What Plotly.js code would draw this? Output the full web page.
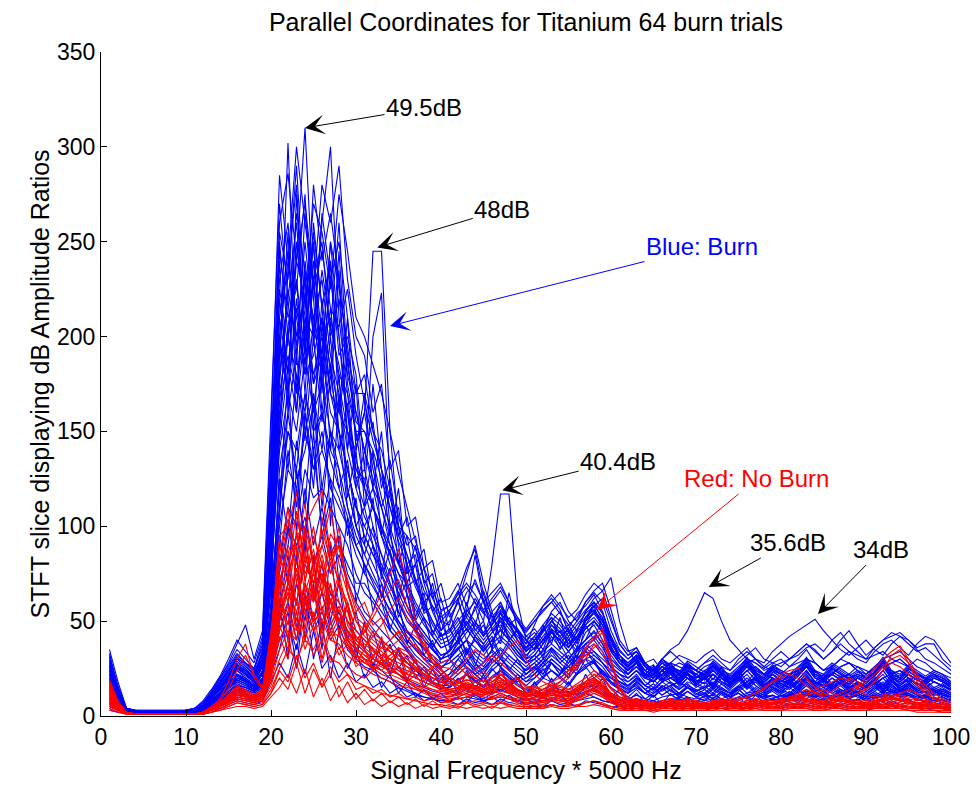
<!DOCTYPE html>
<html>
<head>
<meta charset="utf-8">
<script src="https://cdn.plot.ly/plotly-3.0.1.min.js"></script>
<style>html,body{margin:0;padding:0;background:#fff;}#chart{width:976px;height:790px;}</style>
</head>
<body>
<div id="chart"></div>
<script>
// Frequency bins (x axis)
const freq = [1,2,3,4,5,6,7,8,9,10,11,12,13,14,15,16,17,18,19,20,21,22,23,24,25,26,27,28,29,30,31,32,33,34,35,36,37,38,39,40,41,42,43,44,45,46,47,48,49,50,51,52,53,54,55,56,57,58,59,60,61,62,63,64,65,66,67,68,69,70,71,72,73,74,75,76,77,78,79,80,81,82,83,84,85,86,87,88,89,90,91,92,93,94,95,96,97,98,99,100];

// Burn trials (blue)
const burn01 = [28,10,3,2,2,2,2,2,2,2, 3,5,9,14,20,26,22,18,35,120, 210,180,240,310,220,160,200,150,110,90, 80,70,60,45,40,35,28,22,20,18, 22,30,25,18,20,15,22,18,14,12, 15,20,18,12,16,22,25,30,20,15, 12,10,14,9,12,15,11,9,13,10, 8,12,9,11,14,10,8,7,9,11, 10,8,12,9,7,10,13,9,8,11, 9,12,10,8,11,9,7,10,8,9];
const burn02 = [33,14,4,2,2,2,2,2,2,3, 3,6,12,18,24,30,28,25,40,120, 180,302,190,230,175,210,140,180,120,100, 110,90,75,60,48,40,35,30,28,25, 30,35,40,28,22,30,26,20,18,25, 28,22,30,26,20,35,40,45,38,25, 20,18,22,16,20,24,18,15,20,17, 15,20,17,14,18,22,16,13,17,15, 14,18,22,16,13,17,20,15,12,16, 18,22,16,13,17,20,15,14,12,10];
const burn03 = [20,9,3,2,2,2,2,2,2,2, 2,4,8,12,18,24,20,16,28,90, 180,220,160,240,200,260,300,210,170,130, 120,100,85,70,55,45,38,32,28,24, 20,26,30,22,18,25,20,16,22,18, 20,25,18,22,28,32,26,20,24,18, 15,12,18,14,10,16,13,11,15,12, 10,14,11,9,13,16,12,10,14,11, 9,13,16,12,10,14,11,9,12,10, 13,16,12,10,14,11,9,12,10,8];
const burn04 = [25,11,3,2,2,2,2,2,2,2, 3,5,10,16,22,28,25,20,30,100, 200,240,210,180,230,190,250,200,150,140, 160,245,245,150,100,70,50,40,35,30, 35,40,30,25,28,35,30,25,20,22, 25,30,28,22,26,30,35,28,22,20, 18,15,20,16,13,18,15,12,16,14, 12,16,13,11,15,18,14,12,16,13, 11,15,18,14,12,16,13,11,14,12, 15,18,14,12,16,13,11,14,12,10];
const burn05 = [18,8,3,2,2,2,2,2,2,2, 2,4,7,11,16,20,18,15,22,70, 150,200,230,190,260,215,240,190,200,180, 130,200,223,120,90,65,45,38,30,26, 28,32,26,22,25,30,26,22,18,20, 22,28,24,20,24,28,30,24,20,18, 16,14,18,14,12,16,14,11,15,13, 11,15,12,10,14,17,13,11,15,12, 10,14,17,13,11,15,12,10,13,11, 14,17,13,11,15,12,10,13,11,9];
const burn06 = [22,9,3,2,2,2,2,2,2,2, 3,5,9,14,20,25,22,18,26,80, 160,190,170,210,180,200,170,150,130,110, 100,90,80,70,60,50,45,40,35,30, 35,45,55,60,50,80,117,117,60,40, 35,40,45,38,30,35,40,50,45,30, 25,20,24,18,15,20,17,14,18,16, 14,18,15,12,16,20,16,13,17,14, 12,16,20,15,13,17,14,12,15,13, 16,20,15,13,17,14,12,15,13,11];
const burn07 = [15,7,3,2,2,2,2,2,2,2, 2,4,8,13,18,22,20,17,24,75, 140,170,150,190,160,175,150,140,120,100, 90,80,70,60,50,42,36,32,28,25, 30,35,40,32,28,35,40,36,30,26, 30,35,40,45,38,42,50,55,48,35, 30,28,32,26,24,30,35,38,45,55, 65,62,50,40,35,30,28,25,28,30, 26,30,35,28,24,28,25,22,26,24, 22,26,24,20,18,22,20,18,16,14];
const burn08 = [12,6,3,2,2,2,2,2,2,2, 2,3,7,11,16,20,18,15,20,60, 120,150,140,170,150,160,140,130,110,95, 85,75,65,55,48,40,35,30,26,22, 25,30,35,28,24,30,35,30,26,22, 26,30,35,30,26,32,38,42,36,28, 24,22,26,22,20,24,28,32,30,28, 32,35,30,28,32,36,30,28,34,38, 42,45,48,51,45,40,35,32,36,40, 35,32,38,42,40,35,30,28,25,22];
const burn09 = [10,5,3,2,2,2,2,2,2,2, 2,3,6,10,15,18,16,14,18,50, 100,130,120,150,130,140,125,115,100,85, 75,68,60,52,45,38,32,28,24,20, 22,26,30,25,22,28,32,28,24,20, 24,28,32,28,24,30,35,38,32,26, 22,20,24,20,18,22,25,28,26,24, 28,30,26,24,28,32,36,30,28,26, 30,34,38,35,30,34,40,45,38,32, 36,40,42,44,40,36,38,38,30,26];
const burn10 = [8,4,2,2,2,2,2,2,2,2, 2,3,5,8,12,15,14,12,15,40, 80,110,100,130,115,120,110,100,90,75, 65,60,52,45,40,34,28,24,20,18, 18,22,26,22,18,24,28,24,20,16, 20,24,28,24,20,26,30,32,28,22, 18,16,20,16,14,18,20,22,20,18, 20,22,18,16,20,24,26,22,20,18, 22,24,26,24,20,22,26,28,24,20, 22,26,28,30,26,22,20,18,16,14];
const burn11 = [26,10,3,2,2,2,2,2,2,2, 3,6,11,17,23,30,26,22,32,110, 230,260,200,220,250,180,230,200,160,120, 140,120,110,90,80,75,90,70,55,45, 50,60,75,90,70,55,60,50,40,35, 40,45,50,55,45,40,50,60,55,40, 30,25,28,22,18,24,20,17,22,19, 17,22,18,15,19,24,19,16,20,17, 15,19,24,18,16,20,17,15,18,16, 19,24,18,16,20,17,15,18,16,14];
const burn12 = [16,7,3,2,2,2,2,2,2,2, 2,4,8,12,17,22,19,16,24,85, 170,200,180,160,210,230,190,170,140,120, 105,95,85,75,65,55,48,42,36,30, 32,38,44,50,42,48,55,48,40,34, 38,45,55,60,50,45,55,62,66,73, 50,35,28,22,18,24,20,17,22,19, 17,22,18,15,19,24,19,16,20,17, 15,19,24,18,16,20,17,15,18,16, 19,24,18,16,20,17,15,18,16,14];
const burn13 = [5,3,2,2,2,2,2,2,2,2, 2,2,4,6,9,12,10,9,12,30, 50,70,60,80,70,75,65,60,50,45, 40,35,30,26,22,18,15,13,11,10, 10,12,14,11,9,12,14,12,10,8, 10,12,14,12,10,13,15,16,13,10, 8,7,9,7,6,8,9,10,9,8, 9,10,8,7,9,11,12,10,9,8, 10,11,12,11,9,10,12,13,11,9, 10,12,13,14,12,10,9,8,7,6];
const burn14 = [30,13,4,2,2,2,2,2,2,3, 3,6,13,20,28,38,48,30,45,160, 270,220,260,200,280,240,265,230,190,170, 180,150,130,110,95,85,70,60,50,42, 45,55,65,70,60,65,70,60,50,45, 50,55,60,65,55,50,60,65,60,45, 35,30,34,26,22,28,24,20,26,22, 20,26,22,18,22,28,22,19,24,20, 18,22,28,21,19,24,20,18,21,19, 22,28,21,19,24,20,18,21,19,16];
const burn15 = [14,6,3,2,2,2,2,2,2,2, 2,4,7,12,16,20,18,15,20,55, 200,170,220,180,190,210,170,160,150,130, 125,110,95,80,68,58,50,44,38,32, 34,40,46,40,34,40,45,40,34,28, 32,38,44,40,34,40,46,50,44,34, 28,24,28,22,20,24,22,19,24,21, 19,24,20,17,21,26,21,18,22,19, 17,21,26,20,18,22,19,17,20,18, 21,26,20,18,22,19,17,20,18,15];
const burn16 = [7,4,2,2,2,2,2,2,2,2, 2,3,5,9,13,16,15,13,16,45, 90,140,110,160,130,150,120,110,100,90, 95,85,75,65,55,45,40,35,30,26, 28,32,36,30,26,32,36,32,28,24, 28,32,36,32,28,34,38,40,34,26, 22,20,24,20,18,22,26,24,22,20, 22,26,22,20,24,28,24,22,26,24, 22,26,30,28,24,26,30,28,26,22, 26,30,32,34,30,26,24,22,18,16];
const burn17 = [19,8,3,2,2,2,2,2,2,2, 3,5,9,14,19,24,21,18,27,95, 250,200,230,170,240,200,210,180,170,150, 150,135,115,100,85,70,60,52,45,38, 40,46,52,46,40,46,52,46,40,34, 38,44,50,46,40,46,52,56,50,38, 32,28,32,26,22,28,25,21,27,24, 21,27,23,19,23,29,23,20,25,22, 19,23,29,22,20,25,22,19,22,20, 23,29,22,20,25,22,19,22,20,17];
const burn18 = [9,5,2,2,2,2,2,2,2,2, 2,3,5,8,11,14,13,11,14,35, 60,100,80,120,90,110,85,95,75,65, 55,50,45,40,34,28,24,20,17,15, 15,18,22,18,15,20,24,20,16,13, 16,20,24,20,16,22,26,28,22,17, 14,12,15,12,10,14,16,18,15,13, 15,17,14,12,15,18,20,17,15,13, 16,18,20,18,15,17,20,22,18,15, 17,20,22,24,20,17,15,13,11,10];
const burn19 = [24,10,3,2,2,2,2,2,2,2, 3,5,10,15,21,27,24,20,30,130, 260,286,240,270,230,250,200,220,180,160, 140,125,110,95,80,68,58,50,42,36, 38,44,50,44,38,44,50,44,38,32, 36,42,48,44,38,44,50,54,48,36, 30,26,30,24,21,26,23,20,25,22, 20,25,21,18,22,27,22,19,23,21, 18,22,27,21,19,23,21,18,21,19, 22,27,21,19,23,21,18,21,19,16];
const burn20 = [11,5,3,2,2,2,2,2,2,2, 2,4,7,11,15,19,17,14,19,55, 110,150,130,170,140,160,135,120,105,90, 80,72,64,56,50,44,40,36,32,28, 30,40,55,85,60,45,50,42,36,30, 34,40,46,42,36,42,48,52,46,36, 30,26,32,28,24,30,34,30,26,24, 28,32,28,24,30,34,30,26,30,34, 30,34,38,34,30,34,38,34,30,28, 34,38,40,36,32,38,42,40,34,28];
const burn21 = [6,3,2,2,2,2,2,2,2,2, 2,2,4,7,10,13,12,10,13,28, 45,60,40,70,50,65,45,55,40,35, 30,28,24,20,17,14,12,10,9,8, 8,10,12,10,8,10,12,10,8,7, 8,10,12,10,8,11,13,14,11,8, 7,6,8,6,5,7,8,9,8,7, 8,9,7,6,8,10,11,9,8,7, 9,10,11,10,8,9,11,12,10,8, 9,11,12,13,11,9,8,7,6,5];
const burn22 = [21,9,3,2,2,2,2,2,2,2, 3,5,10,15,20,26,23,19,28,100, 220,180,250,210,200,265,230,250,210,170, 170,150,140,120,100,85,72,60,50,42, 44,50,56,50,44,50,56,50,44,38, 42,48,54,50,44,50,56,60,54,42, 34,30,34,28,24,30,27,23,29,26, 23,29,25,21,25,31,25,22,27,24, 21,25,31,24,22,27,24,21,24,22, 25,31,24,22,27,24,21,24,22,18];
const burn23 = [13,6,3,2,2,2,2,2,2,2, 2,4,7,11,15,19,17,14,19,50, 130,160,190,150,170,140,180,150,130,110, 100,110,100,85,70,58,50,44,38,32, 34,40,46,40,34,40,46,40,34,28, 32,38,44,40,34,40,46,50,44,34, 28,24,28,22,20,24,22,19,24,21, 19,24,20,17,21,26,21,18,22,19, 17,21,26,20,18,22,19,17,20,18, 21,26,20,18,22,19,17,20,18,15];
const burn24 = [10,5,3,2,2,2,2,2,2,2, 2,3,6,9,13,16,15,13,16,38, 70,90,120,95,140,100,125,90,80,70, 70,62,55,48,42,36,30,26,22,19, 20,24,28,24,20,26,30,26,22,18, 22,26,30,26,22,28,32,34,28,22, 18,16,20,16,14,18,20,22,20,18, 20,22,18,16,20,24,26,22,20,18, 22,24,26,24,20,22,26,28,24,20, 22,26,28,30,26,22,20,18,16,14];
const burn25 = [31,16,4,3,3,3,3,3,3,3, 4,7,12,19,26,33,28,24,38,140, 240,160,275,190,250,170,240,160,210,140, 170,120,150,100,110,80,85,60,65,45, 55,40,60,45,50,35,55,40,45,30, 40,30,45,35,42,30,48,40,52,35, 30,22,28,20,25,18,24,17,22,16, 20,15,22,16,21,15,20,14,19,15, 18,14,20,15,19,14,18,13,17,14, 18,13,19,14,17,13,16,12,14,11];
const burn26 = [17,8,3,2,2,2,2,2,2,2, 2,4,8,12,16,21,18,15,20,45, 60,30,85,40,70,35,90,45,60,30, 50,25,40,22,35,18,30,15,25,14, 20,12,24,14,22,12,26,15,20,11, 18,10,20,12,18,11,22,14,20,10, 14,8,12,7,11,6,12,8,10,7, 11,7,12,8,10,6,11,7,9,6, 10,7,11,8,9,6,10,7,9,6, 10,7,11,8,9,6,8,6,7,5];
const burn27 = [27,12,4,3,2,2,2,2,2,3, 3,6,11,17,24,31,27,22,33,105, 190,255,170,235,150,220,180,245,175,150, 120,175,130,95,120,75,80,55,70,50, 48,62,45,58,42,55,40,65,45,40, 35,48,38,52,36,45,55,60,50,42, 32,26,30,22,26,20,25,18,23,17, 21,16,23,17,22,16,21,15,20,16, 19,15,21,16,20,15,19,14,18,15, 19,14,20,15,18,14,17,13,15,12];
const burn28 = [4,2,2,2,2,2,2,2,2,2, 2,2,3,5,8,10,9,8,10,22, 35,55,25,65,30,50,20,45,25,35, 20,28,15,22,12,18,10,14,9,12, 8,10,7,12,8,10,7,11,8,9, 7,10,8,11,7,9,12,10,8,7, 6,5,7,5,6,4,6,5,6,4, 5,4,6,5,5,4,6,5,5,4, 5,4,6,5,5,4,6,5,5,4, 5,4,6,5,5,4,5,4,4,3];
const burn29 = [22,10,3,2,2,2,2,2,2,2, 3,5,10,15,21,27,24,20,29,90, 150,235,280,195,255,215,170,235,140,175, 110,140,95,120,80,95,70,78,55,62, 45,52,40,48,62,45,38,52,44,36, 42,35,46,38,44,36,50,58,45,37, 28,24,29,21,24,19,23,17,22,16, 20,15,22,16,20,15,19,14,18,15, 17,14,19,15,18,14,17,13,16,14, 17,13,18,14,16,13,15,12,13,11];
const burn30 = [9,5,3,2,2,2,2,2,2,2, 2,3,6,9,13,17,15,13,17,42, 95,70,130,85,150,95,115,70,105,60, 80,55,70,45,60,38,48,32,40,28, 30,24,34,26,38,28,32,24,30,22, 26,20,28,22,30,24,34,30,26,20, 16,13,17,12,15,11,14,10,13,10, 12,9,13,10,12,9,12,9,11,9, 11,9,12,10,11,9,12,9,11,8, 11,9,12,10,11,8,10,8,9,7];
const burn31 = [35,18,4,3,3,3,3,3,3,3, 4,8,14,21,30,40,34,28,42,150, 285,240,300,260,225,280,260,290,230,200, 190,160,175,130,140,100,105,78,82,60, 62,70,58,72,60,50,58,48,52,42, 46,40,50,44,48,40,52,58,62,50, 38,32,36,28,30,24,28,22,26,20, 24,19,26,20,24,18,23,17,22,18, 21,17,23,18,22,17,21,16,20,17, 21,16,22,17,20,16,19,15,17,14];
const burn32 = [14,7,3,2,2,2,2,2,2,2, 2,4,8,12,17,21,19,16,22,65, 110,180,95,160,120,190,100,170,115,140, 90,115,75,100,62,80,52,65,42,55, 36,45,32,42,35,40,30,38,32,28, 30,26,34,28,32,26,36,32,28,24, 20,16,19,14,17,13,16,12,15,11, 14,11,15,12,14,10,13,11,13,10, 13,10,14,11,13,10,13,10,12,10, 13,10,14,11,12,10,11,9,10,8];
const burn33 = [20,8,3,2,2,2,2,2,2,2, 3,4,9,14,19,25,22,18,26,85, 165,205,240,220,160,205,185,160,190,145, 160,130,110,125,95,105,80,88,62,70, 52,60,48,56,66,52,46,58,50,42, 40,46,52,40,46,54,58,64,55,42, 30,26,30,22,26,20,24,18,22,17, 20,16,22,17,21,15,20,15,19,16, 18,15,20,16,19,15,18,14,17,15, 18,14,19,15,17,14,16,13,14,12];
const burn34 = [7,4,2,2,2,2,2,2,2,2, 2,3,5,8,11,14,13,11,14,30, 55,85,45,95,60,80,50,70,40,55, 35,45,30,38,25,32,20,26,18,22, 15,20,14,18,15,17,13,16,14,12, 13,11,14,12,13,11,15,13,12,10, 9,8,9,7,8,6,8,6,7,6, 7,6,8,6,7,5,7,6,7,5, 7,6,8,6,7,5,7,6,7,5, 7,6,8,6,7,5,6,5,5,4];
const burn35 = [29,12,4,2,2,2,2,2,2,3, 3,6,12,18,25,32,28,23,34,115, 225,195,265,235,210,190,250,225,195,160, 140,155,120,135,105,90,95,70,75,55, 58,66,52,62,55,48,60,50,46,40, 44,38,48,42,46,38,52,56,48,40, 32,27,31,24,27,21,25,19,23,18, 22,17,23,18,22,16,21,16,20,17, 19,16,21,17,20,16,19,15,18,16, 20,15,21,16,19,15,18,14,16,13];
const burn36 = [12,6,3,2,2,2,2,2,2,2, 2,4,7,11,15,19,17,14,19,52, 125,95,145,110,170,120,150,130,95,115, 75,90,62,78,52,64,44,52,36,44, 30,36,28,34,30,34,26,32,28,24, 26,22,28,24,26,22,30,28,24,20, 17,14,16,12,15,11,14,10,13,10, 12,9,13,10,12,9,12,10,11,9, 12,9,13,10,12,9,12,10,11,9, 12,9,13,10,12,9,11,9,10,8];
const burn37 = [23,9,3,2,2,2,2,2,2,2, 3,5,10,15,21,27,23,19,28,95, 175,225,195,250,205,185,215,175,150,125, 130,110,95,85,75,70,80,66,58,50, 55,65,78,88,64,52,58,50,45,38, 48,58,62,56,44,40,48,55,50,40, 30,26,30,24,20,26,22,19,24,21, 19,24,20,17,21,26,21,18,22,19, 17,21,26,20,18,22,19,17,20,18, 21,26,20,18,22,19,17,20,18,15];
const burn38 = [5,3,2,2,2,2,2,2,2,2, 2,2,4,6,9,11,10,9,11,25, 40,50,35,60,45,55,40,48,35,30, 26,24,20,18,15,13,11,10,9,8, 8,9,10,9,8,9,10,9,8,7, 7,8,9,8,7,8,9,10,8,7, 6,5,6,5,5,6,6,5,6,5, 5,6,6,5,5,6,6,5,5,5, 6,6,6,5,5,6,6,5,5,5, 6,6,6,5,5,5,5,4,4,4];
const burn39 = [16,7,3,2,2,2,2,2,2,2, 2,4,8,12,17,22,19,16,23,75, 145,185,160,205,175,190,160,150,130,110, 95,85,78,68,60,52,46,40,35,30, 32,36,40,36,32,38,42,38,32,28, 30,34,38,34,30,36,40,44,38,30, 26,22,26,22,20,24,26,24,22,20, 24,26,22,20,24,28,30,26,24,22, 26,28,30,28,24,26,30,34,32,30, 36,40,44,42,38,34,36,32,28,24];
const burn40 = [19,8,3,2,2,2,2,2,2,2, 3,5,9,14,19,25,22,18,26,88, 195,170,215,185,230,175,205,185,160,135, 120,110,98,86,75,64,56,48,42,36, 38,44,48,42,38,44,48,42,36,32, 36,40,44,40,36,42,46,50,44,34, 28,24,28,24,22,26,28,26,24,22, 26,28,24,22,26,30,28,24,26,28, 30,32,36,38,34,40,44,38,34,30, 32,34,30,28,26,30,28,24,22,20];
const burn41 = [26,11,3,2,2,2,2,2,2,2, 3,5,11,16,22,29,25,21,31,125, 245,210,225,275,195,235,205,260,185,155, 150,140,125,110,92,80,68,58,48,40, 42,48,54,48,42,48,54,48,42,36, 40,46,52,48,42,48,54,58,52,40, 32,28,32,26,23,28,25,22,27,24, 21,27,23,19,23,29,23,20,25,22, 19,23,29,22,20,25,22,19,22,20, 23,29,22,20,25,22,19,22,20,17];
const burn42 = [8,4,2,2,2,2,2,2,2,2, 2,3,5,8,12,15,14,12,15,36, 75,100,90,105,80,95,75,85,70,60, 52,46,40,36,32,28,24,21,18,16, 16,19,22,19,16,21,24,21,17,14, 17,21,24,21,17,23,27,29,23,18, 14,12,15,12,10,14,16,18,15,13, 15,17,14,12,15,18,20,17,15,13, 16,18,20,18,15,17,20,22,18,15, 17,20,22,24,20,17,15,13,11,10];
const burn43 = [18,8,3,2,2,2,2,2,2,2, 2,4,8,12,17,22,19,16,23,70, 160,130,180,145,200,155,185,140,165,125, 110,120,100,90,82,68,72,54,58,42, 46,38,50,42,48,36,52,40,46,34, 38,32,42,36,40,34,44,48,40,32, 26,22,26,20,22,18,22,16,20,15, 18,14,20,15,19,14,18,13,17,14, 17,13,18,14,17,13,16,12,15,13, 16,12,17,13,15,12,14,11,12,10];
const burn44 = [3,2,2,2,2,2,2,2,2,2, 2,2,3,4,6,8,7,6,8,18, 28,20,38,22,45,25,32,20,28,18, 22,15,18,12,15,10,12,8,10,7, 8,6,9,7,8,6,9,7,8,6, 7,5,8,6,7,5,8,7,6,5, 5,4,5,4,5,4,5,4,5,4, 5,4,5,4,5,4,5,4,5,4, 5,4,5,4,5,4,5,4,5,4, 5,4,5,4,5,4,4,4,4,3];
const burn45 = [24,10,3,2,2,2,2,2,2,2, 3,5,10,15,21,27,24,20,30,110, 210,245,185,265,225,245,215,205,225,190, 165,145,130,115,100,95,88,72,62,52, 56,62,68,60,54,60,66,58,50,44, 50,56,60,54,48,52,60,66,70,56, 40,34,36,28,24,30,26,22,28,24, 22,28,24,20,24,30,24,21,26,23, 20,24,30,23,21,26,23,20,23,21, 24,30,23,21,26,23,20,23,21,18];
const burn46 = [11,5,3,2,2,2,2,2,2,2, 2,3,6,10,14,18,16,13,18,48, 105,160,125,140,165,110,150,120,135,100, 85,100,72,88,60,72,50,60,44,50, 38,44,34,40,36,42,32,40,34,30, 32,28,36,30,34,28,38,34,30,26, 22,18,21,16,19,15,18,14,17,13, 16,12,17,13,16,12,15,12,14,12, 15,12,16,13,15,12,14,12,13,11, 15,12,16,13,14,12,13,11,12,10];
const burn47 = [32,15,4,3,2,2,2,2,2,3, 4,7,13,20,27,35,30,25,36,135, 255,230,290,215,270,255,225,275,245,210, 200,185,170,150,128,110,92,78,66,56, 58,64,70,64,56,62,68,60,52,46, 52,58,64,58,52,56,64,70,66,52, 38,32,34,27,24,29,26,22,27,24, 22,27,23,20,23,28,23,20,25,22, 20,23,28,22,20,25,22,20,22,20, 23,28,22,20,25,22,20,22,20,17];
const burn48 = [6,3,2,2,2,2,2,2,2,2, 2,3,4,7,10,13,12,10,13,28, 55,40,70,50,85,45,65,55,45,38, 34,30,27,24,22,19,17,15,13,12, 12,14,16,14,12,14,16,14,12,10, 12,14,16,14,12,15,18,20,16,12, 10,9,11,9,8,10,11,12,10,9, 10,11,9,8,10,12,13,11,10,9, 11,12,13,12,10,11,13,14,12,10, 11,13,14,15,13,11,10,9,8,7];

// No-burn trials (red)
const noburn01 = [18,7,2,1,1,1,1,1,1,1, 1,2,4,7,10,14,12,10,12,30, 70,90,80,100,110,119,85,70,60,45, 40,35,30,28,24,20,16,14,12,10, 9,10,12,14,12,10,12,10,8,7, 8,7,9,8,7,9,12,15,12,8, 6,5,6,5,4,5,6,5,6,5, 4,5,6,5,4,5,6,5,4,5, 6,7,6,5,4,5,6,5,4,5, 5,6,7,6,5,4,5,4,4,3];
const noburn02 = [12,5,2,1,1,1,1,1,1,1, 1,2,4,6,9,12,11,9,11,40, 95,100,118,70,95,80,60,75,55,40, 35,30,28,25,22,18,15,13,11,9, 8,9,10,12,10,9,11,9,7,6, 7,6,8,7,6,8,10,12,10,7, 5,4,5,4,4,5,5,4,5,4, 4,5,5,4,4,5,5,4,4,4, 5,6,5,4,4,5,5,4,4,4, 5,5,6,5,4,4,4,3,3,3];
const noburn03 = [9,4,2,1,1,1,1,1,1,1, 1,2,3,5,8,11,10,8,10,25, 50,65,55,70,60,75,55,50,45,40, 45,55,65,75,88,70,50,40,30,25, 20,18,16,14,12,13,12,10,9,8, 9,8,10,9,8,10,12,14,11,8, 6,5,6,5,5,6,6,5,6,5, 5,6,6,5,5,6,6,5,5,5, 6,7,6,5,5,6,6,5,5,5, 6,6,7,6,5,5,5,4,4,3];
const noburn04 = [14,6,2,1,1,1,1,1,1,1, 1,2,5,9,18,30,38,20,14,35, 60,75,90,65,80,55,70,50,40,35, 30,26,24,28,32,30,26,22,18,15, 14,15,18,16,14,16,18,15,12,10, 12,10,14,16,20,25,35,42,46,30, 15,10,8,6,5,6,7,6,7,6, 5,6,7,6,5,6,7,6,5,6, 7,8,7,6,5,6,7,6,5,6, 6,7,8,7,6,5,5,4,4,4];
const noburn05 = [7,3,2,1,1,1,1,1,1,1, 1,2,3,5,7,9,8,7,9,20, 45,55,70,60,75,65,60,50,40,32, 28,25,22,20,18,16,14,12,10,9, 8,9,10,11,10,9,10,9,8,7, 7,7,8,8,7,8,10,12,10,7, 5,5,6,5,5,6,6,5,6,6, 6,7,7,6,6,7,8,7,7,8, 9,10,9,8,8,10,12,14,16,20, 25,30,34,37,30,22,16,12,9,7];
const noburn06 = [10,4,2,1,1,1,1,1,1,1, 1,2,4,6,9,12,11,9,12,28, 65,80,95,75,85,70,80,60,50,42, 38,34,30,32,36,34,30,26,22,18, 16,18,22,20,18,20,22,18,14,12, 13,12,15,14,12,15,18,22,20,14, 10,8,9,8,7,8,9,8,9,8, 7,8,9,8,8,10,12,14,18,22, 24,25,20,15,12,10,9,8,8,7, 8,9,10,9,8,7,6,6,5,5];
const noburn07 = [16,6,2,1,1,1,1,1,1,1, 1,2,4,7,11,15,13,11,14,32, 55,70,60,85,65,75,60,55,45,38, 34,30,28,30,34,32,28,24,20,18, 20,24,30,35,32,28,32,36,40,30, 22,18,16,15,14,16,18,20,16,12, 9,8,9,8,7,8,9,8,9,8, 7,8,9,8,7,8,9,8,8,9, 10,11,12,14,16,18,20,19,15,11, 10,11,12,11,10,9,8,7,6,5];
const noburn08 = [5,3,2,1,1,1,1,1,1,1, 1,1,2,4,6,8,7,6,7,14, 25,35,30,40,35,45,30,28,22,18, 16,14,12,11,10,9,8,7,6,6, 5,6,7,8,7,6,7,6,5,5, 5,5,6,5,5,6,7,8,7,5, 4,4,4,4,3,4,4,4,4,4, 4,4,4,4,4,4,5,4,4,4, 5,5,5,4,4,5,5,4,4,4, 4,5,5,5,4,4,3,3,3,3];
const noburn09 = [11,5,2,1,1,1,1,1,1,1, 1,2,4,6,9,12,11,9,11,24, 50,60,75,55,65,50,60,45,38,30, 28,32,36,40,45,42,36,30,25,20, 18,16,14,15,14,16,18,16,13,11, 12,11,13,12,11,14,16,18,15,11, 8,7,8,7,6,7,8,7,8,7, 6,7,8,7,6,7,8,7,7,8, 9,10,9,8,7,8,9,8,7,7, 8,9,10,9,8,7,7,6,5,5];
const noburn10 = [13,5,2,1,1,1,1,1,1,1, 1,2,4,7,10,14,12,10,13,38, 80,95,105,85,70,90,75,100,65,50, 45,40,36,34,30,26,22,20,18,16, 14,15,17,16,14,16,18,16,13,11, 12,11,13,12,11,14,16,18,15,11, 8,7,8,7,6,7,8,7,8,7, 6,7,8,7,6,7,8,7,7,8, 9,10,9,8,7,8,9,8,7,7, 8,9,10,9,8,7,7,6,5,5];
const noburn11 = [8,4,2,1,1,1,1,1,1,1, 1,2,3,5,7,10,9,8,10,22, 40,50,45,60,50,55,45,42,36,32, 30,28,32,36,40,45,42,38,30,24, 20,18,16,15,14,16,18,16,13,11, 12,11,13,12,11,14,16,18,15,11, 8,7,8,7,6,7,8,7,8,7, 6,7,8,9,10,9,8,7,7,8, 9,10,9,8,7,8,9,8,7,7, 8,9,10,12,14,12,9,7,5,4];
const noburn12 = [15,6,2,1,1,1,1,1,1,1, 1,2,4,7,11,15,13,11,14,45, 85,70,95,100,80,90,110,80,65,50, 42,38,34,30,26,22,20,18,16,14, 13,14,16,15,13,15,17,15,12,10, 11,10,12,11,10,13,15,17,14,10, 7,6,7,6,5,6,7,6,7,6, 5,6,7,6,5,6,7,6,6,7, 8,9,8,7,6,7,8,7,6,6, 7,8,9,8,7,6,6,5,4,4];
const noburn13 = [6,3,2,1,1,1,1,1,1,1, 1,2,3,5,8,10,9,8,10,18, 35,45,40,55,45,50,40,38,32,28, 25,22,20,18,16,15,14,13,12,11, 10,11,13,12,11,13,15,13,11,10, 11,12,14,18,22,28,32,36,40,28, 14,8,7,6,5,6,7,6,7,6, 5,6,7,6,5,6,7,6,6,7, 8,9,8,7,6,7,8,7,6,6, 7,8,9,8,7,6,6,5,4,4];
const noburn14 = [9,4,2,1,1,1,1,1,1,1, 1,2,3,6,9,12,11,9,11,26, 55,65,60,80,70,85,65,60,50,42, 36,32,28,26,24,22,20,18,16,14, 12,13,15,14,12,14,16,14,11,9, 10,9,11,10,9,12,14,16,13,9, 6,5,6,5,5,6,6,5,6,6, 6,7,7,6,6,7,8,7,7,8, 9,10,11,12,14,12,10,12,15,18, 22,26,30,32,28,20,14,10,8,6];
const noburn15 = [4,2,1,1,1,1,1,1,1,1, 1,1,2,3,5,7,6,5,6,12, 20,14,28,12,25,15,22,10,18,9, 14,8,12,7,10,6,9,5,8,5, 6,4,7,5,6,4,7,5,6,4, 5,4,6,5,6,5,7,8,6,4, 3,3,3,3,3,3,3,3,3,3, 3,3,4,3,3,3,4,3,3,3, 4,4,4,3,3,4,4,3,3,3, 4,4,4,4,3,3,3,3,2,2];
const noburn16 = [10,4,2,1,1,1,1,1,1,1, 1,2,4,6,9,13,11,9,12,30, 72,40,88,45,78,38,70,42,60,34, 48,30,42,26,36,22,30,18,25,16, 20,14,22,15,20,13,24,16,20,12, 14,10,13,10,12,11,16,20,17,11, 8,6,7,6,5,6,7,6,7,6, 5,6,7,6,5,6,7,6,6,7, 8,9,8,7,6,7,8,7,6,6, 7,8,9,8,7,6,6,5,4,4];
const noburn17 = [17,7,2,1,1,1,1,1,1,1, 1,2,4,7,10,14,12,10,13,35, 85,110,70,95,60,105,80,90,70,55, 60,48,52,40,44,36,38,30,32,26, 25,22,26,20,24,18,22,18,20,15, 16,13,15,12,14,13,18,22,18,12, 9,7,8,7,6,7,8,7,8,7, 6,7,8,7,6,7,8,7,7,8, 9,10,9,8,7,8,9,8,7,7, 8,9,10,9,8,7,7,6,5,5];
const noburn18 = [8,3,2,1,1,1,1,1,1,1, 1,2,3,5,7,9,8,7,9,20, 42,30,55,35,48,28,45,32,38,26, 30,24,28,22,26,20,24,22,26,28, 30,26,22,24,28,32,28,24,20,16, 14,12,11,10,9,10,12,14,12,9, 6,5,6,5,5,6,6,5,6,5, 5,6,6,5,5,6,6,5,5,5, 6,7,6,5,5,6,6,5,5,5, 6,6,7,6,5,5,5,4,4,3];
const noburn19 = [13,5,2,1,1,1,1,1,1,1, 1,2,4,6,9,12,11,9,11,32, 68,88,58,98,62,82,55,72,48,40, 36,42,48,56,62,52,44,36,28,22, 18,16,15,14,13,15,17,15,12,10, 11,10,12,11,10,13,15,17,14,10, 7,6,7,6,5,6,7,6,7,6, 5,6,7,6,5,6,7,6,6,7, 8,9,8,7,6,7,8,7,6,6, 7,8,9,8,7,6,6,5,4,4];
const noburn20 = [3,2,1,1,1,1,1,1,1,1, 1,1,2,3,4,5,5,4,5,10, 15,22,12,25,10,20,8,16,7,12, 6,9,5,8,5,7,4,6,4,5, 4,5,4,5,4,5,4,5,4,4, 4,4,5,4,4,5,5,6,5,4, 3,3,3,3,2,3,3,3,3,3, 3,3,3,3,3,3,3,3,3,3, 3,3,3,3,3,3,3,3,3,3, 3,3,3,3,3,2,2,2,2,2];
const noburn21 = [11,5,2,1,1,1,1,1,1,1, 1,2,4,6,9,12,11,9,11,26, 58,75,50,70,52,66,48,58,44,36, 32,28,26,24,22,20,18,16,14,12, 11,12,14,13,11,13,15,13,10,9, 9,8,10,9,8,10,12,14,11,8, 6,5,6,5,5,6,6,5,6,6, 6,7,7,6,7,8,9,8,8,9, 10,12,14,12,11,13,16,20,18,14, 18,24,28,26,22,16,12,9,7,6];
const noburn22 = [15,6,2,1,1,1,1,1,1,1, 1,2,5,8,14,24,32,22,15,38, 75,60,98,72,88,65,92,68,58,45, 40,36,32,30,28,26,24,22,20,18, 16,17,19,18,16,18,20,17,14,12, 14,16,18,20,24,28,36,40,44,28, 14,9,8,7,6,7,8,7,8,7, 6,7,8,8,9,10,12,15,18,20, 22,20,16,12,10,9,8,7,7,6, 7,8,9,8,7,6,6,5,4,4];
const noburn23 = [6,3,2,1,1,1,1,1,1,1, 1,1,3,5,7,9,8,7,8,16, 30,40,26,45,32,40,28,36,26,22, 20,24,28,32,36,30,26,22,18,15, 13,12,11,12,11,12,13,12,10,9, 9,8,9,8,8,9,11,13,11,8, 5,5,5,5,4,5,5,5,5,5, 5,5,6,5,5,6,6,5,5,5, 6,6,6,5,5,6,6,5,5,5, 6,6,6,5,5,5,5,4,4,3];
const noburn24 = [19,8,2,1,1,1,1,1,1,1, 1,2,4,7,11,16,14,11,14,42, 92,75,108,80,100,70,96,88,72,58, 50,44,40,36,32,28,25,22,20,18, 17,19,22,20,18,20,22,19,16,14, 15,14,17,16,14,17,20,24,21,15, 10,8,9,8,7,8,9,8,9,8, 7,8,9,8,7,8,9,8,8,9, 10,11,10,9,8,9,10,9,8,8, 9,10,11,10,9,8,8,7,6,5];
const noburn25 = [7,3,2,1,1,1,1,1,1,1, 1,2,3,5,7,10,9,7,9,22, 48,35,62,40,55,30,50,35,42,28, 35,25,30,22,26,18,22,15,18,13, 14,11,15,12,14,11,16,12,14,10, 11,9,12,10,11,9,13,15,12,9, 6,5,6,5,4,5,6,5,6,5, 5,5,6,5,5,6,6,5,5,5, 6,6,7,6,5,6,6,5,5,5, 6,6,7,6,5,5,5,4,4,3];
const noburn26 = [10,4,2,1,1,1,1,1,1,1, 1,2,4,6,8,11,10,8,10,24, 52,68,46,62,50,72,48,56,42,36, 32,30,28,27,26,24,22,20,18,16, 14,15,17,16,14,16,18,16,13,11, 12,11,13,12,11,14,16,18,15,11, 8,7,8,7,6,7,8,7,8,7, 6,7,8,7,6,7,8,7,7,8, 9,10,9,8,7,8,9,10,12,14, 18,24,32,35,28,18,12,9,7,5];
const noburn27 = [12,5,2,1,1,1,1,1,1,1, 1,2,4,6,9,12,11,9,11,28, 62,48,78,55,68,45,62,50,56,40, 44,52,60,66,72,58,46,36,28,22, 20,18,17,16,15,17,19,17,14,12, 13,12,14,13,12,15,17,19,16,12, 8,7,8,7,6,7,8,7,8,7, 6,7,8,7,6,7,8,7,7,8, 9,10,9,8,7,8,9,8,7,7, 8,9,10,9,8,7,7,6,5,5];
const noburn28 = [5,3,1,1,1,1,1,1,1,1, 1,1,2,4,5,7,6,5,6,12, 24,18,32,20,28,16,26,18,22,14, 16,12,14,10,12,9,10,8,9,7, 7,6,8,6,7,6,8,6,7,5, 6,5,6,5,6,5,7,8,6,5, 4,3,4,3,3,4,4,3,4,3, 3,4,4,3,3,4,4,3,3,3, 4,4,4,3,3,4,4,3,3,3, 4,4,4,4,3,3,3,3,2,2];
const noburn29 = [14,6,2,1,1,1,1,1,1,1, 1,2,4,7,10,13,12,10,13,36, 78,104,88,112,76,98,82,94,66,52, 48,42,38,34,30,28,25,22,20,18, 16,17,19,18,16,18,20,17,14,12, 13,12,14,13,12,15,17,19,16,12, 8,7,8,7,6,7,8,7,8,7, 6,7,8,7,6,7,8,7,7,8, 9,10,9,8,7,8,9,8,7,7, 8,9,10,9,8,7,7,6,5,5];
const noburn30 = [9,4,2,1,1,1,1,1,1,1, 1,2,3,5,8,11,10,8,10,24, 45,58,40,65,48,58,42,52,38,32, 28,26,24,22,20,18,16,15,14,13, 12,13,15,14,12,14,16,14,12,10, 12,14,16,18,22,26,30,38,34,22, 12,8,7,6,5,6,7,6,7,6, 5,6,7,6,5,6,7,6,6,7, 8,9,8,7,6,7,8,7,6,6, 7,8,9,8,7,6,6,5,4,4];

const burnSeries = [burn01,burn02,burn03,burn04,burn05,burn06,burn07,burn08,burn09,burn10,burn11,burn12,burn13,burn14,burn15,burn16,burn17,burn18,burn19,burn20,burn21,burn22,burn23,burn24,burn25,burn26,burn27,burn28,burn29,burn30,burn31,burn32,burn33,burn34,burn35,burn36,burn37,burn38,burn39,burn40,burn41,burn42,burn43,burn44,burn45,burn46,burn47,burn48];
const noBurnSeries = [noburn01,noburn02,noburn03,noburn04,noburn05,noburn06,noburn07,noburn08,noburn09,noburn10,noburn11,noburn12,noburn13,noburn14,noburn15,noburn16,noburn17,noburn18,noburn19,noburn20,noburn21,noburn22,noburn23,noburn24,noburn25,noburn26,noburn27,noburn28,noburn29,noburn30];

const xTicks = [0,10,20,30,40,50,60,70,80,90,100];
const yTicks = [0,50,100,150,200,250,300,350];

const FONT = 'Liberation Sans, Arial, Helvetica, sans-serif';

const traces = [];
burnSeries.forEach(s => traces.push({x: freq, y: s, type: 'scatter', mode: 'lines',
  line: {color: '#0000ff', width: 1.1}, hoverinfo: 'skip', showlegend: false}));
noBurnSeries.forEach(s => traces.push({x: freq, y: s, type: 'scatter', mode: 'lines',
  line: {color: '#ff0000', width: 1.1}, hoverinfo: 'skip', showlegend: false}));

function arrowNote(text, x, y, ax, ay, color) {
  return {text: text, x: x, y: y, xref: 'x', yref: 'y', ax: ax, ay: ay,
    showarrow: true, arrowhead: 3, arrowsize: 3.3, arrowwidth: 1, arrowcolor: color,
    font: {family: FONT, size: 24, color: color}, standoff: 0};
}

const layout = {
  width: 976, height: 790,
  paper_bgcolor: '#ffffff', plot_bgcolor: '#ffffff',
  margin: {l: 101, r: 25, t: 52, b: 74},
  title: {text: 'Parallel Coordinates for Titanium 64 burn trials', x: 0.5, xref: 'paper',
    y: 0.972, yref: 'container', yanchor: 'middle', font: {family: FONT, size: 25, color: '#000'}},
  xaxis: {range: [0, 100], tickvals: xTicks, ticktext: xTicks.map(String), ticks: 'inside', ticklen: 6,
    tickcolor: '#000', showline: true, linecolor: '#000', linewidth: 1, showgrid: false, zeroline: false,
    tickfont: {family: FONT, size: 23, color: '#000'},
    title: {text: 'Signal Frequency * 5000 Hz', font: {family: FONT, size: 25, color: '#000'}, standoff: 12}},
  yaxis: {range: [0, 350], tickvals: yTicks, ticktext: yTicks.map(String), ticks: 'inside', ticklen: 6,
    tickcolor: '#000', showline: true, linecolor: '#000', linewidth: 1, showgrid: false, zeroline: false,
    tickfont: {family: FONT, size: 23, color: '#000'},
    title: {text: 'STFT slice displaying dB Amplitude Ratios', font: {family: FONT, size: 25, color: '#000'}, standoff: 0}},
  annotations: [
    arrowNote('49.5dB', 24, 310, 119, -20, '#000000'),
    arrowNote('48dB', 32.5, 247, 125, -38, '#000000'),
    arrowNote('Blue: Burn', 34, 205.6, 312, -79, '#0000ff'),
    arrowNote('40.4dB', 47.2, 119, 116, -29, '#000000'),
    arrowNote('Red: No Burn', 58.35, 55.9, 160, -131, '#ff0000'),
    arrowNote('35.6dB', 71.5, 68, 79, -44, '#000000'),
    arrowNote('34dB', 84.35, 53.8, 63, -64, '#000000')
  ]
};

Plotly.newPlot('chart', traces, layout, {staticPlot: true, displayModeBar: false});
</script>
</body>
</html>
